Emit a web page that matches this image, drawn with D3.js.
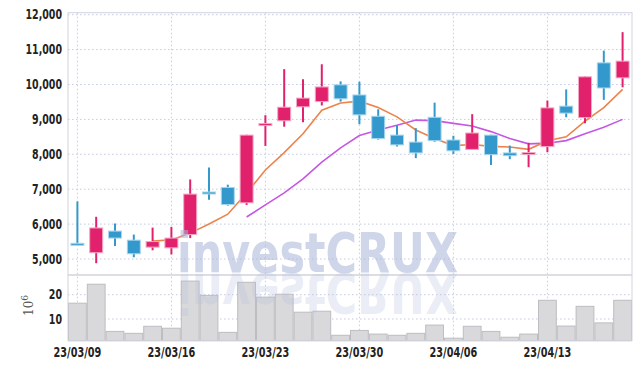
<!DOCTYPE html>
<html>
<head>
<meta charset="utf-8">
<script src="https://cdn.jsdelivr.net/npm/d3@7"></script>
<style>
  html, body { margin: 0; padding: 0; background: #fff; }
  svg { display: block; }
  .tick-label { font-family: "DejaVu Sans Condensed", "DejaVu Sans", sans-serif; font-weight: bold; font-size: 13.5px; fill: #222; }
</style>
</head>
<body>
<svg id="chart"></svg>
<script>
const svg = d3.select("#chart");
const width = 642;
const height = 369;
svg.attr("width", width).attr("height", height);

// trading days
const dates = ["23/03/09", "23/03/10", "23/03/13", "23/03/14", "23/03/15", "23/03/16", "23/03/17",
    "23/03/20", "23/03/21", "23/03/22", "23/03/23", "23/03/24", "23/03/27", "23/03/28", "23/03/29",
    "23/03/30", "23/03/31", "23/04/03", "23/04/04", "23/04/05", "23/04/06", "23/04/07", "23/04/10",
    "23/04/11", "23/04/12", "23/04/13", "23/04/14", "23/04/17", "23/04/18", "23/04/19"];
const open  = [5450, 5180, 5800, 5540, 5340, 5320, 5700, 6920, 7050, 6610, 8860, 8960, 9360, 9510, 9990,
    9700, 9090, 8550, 8350, 9060, 8410, 8140, 8550, 8040, 8000, 8220, 9380, 9050, 10620, 10190];
const high  = [6650, 6210, 6020, 5700, 5900, 5920, 7280, 7620, 7130, 8560, 9120, 10440, 10150, 10580, 10090,
    10080, 9290, 8840, 8750, 9480, 8530, 9150, 8560, 8250, 8330, 9540, 9860, 10230, 10970, 11500];
const low   = [5430, 4880, 5370, 5050, 5250, 5130, 5600, 6700, 6530, 6550, 8240, 8790, 8920, 9400, 9510,
    8860, 8420, 8220, 7890, 8360, 8010, 8130, 7690, 7860, 7630, 8060, 9060, 8890, 9560, 9920];
const close = [5440, 5890, 5600, 5150, 5500, 5600, 6860, 6900, 6560, 8550, 8880, 9350, 9610, 9930, 9590,
    9130, 8450, 8270, 8040, 8390, 8100, 8610, 7990, 7960, 8050, 9330, 9180, 10220, 9900, 10670];
// volume in millions of shares
const volume = [16.5, 24.3, 4.9, 4.1, 7.0, 6.2, 25.6, 19.7, 4.5, 25.1, 19.0, 20.2, 12.8, 13.2, 3.3,
    5.3, 3.8, 3.3, 4.1, 7.5, 2.1, 7.0, 4.9, 2.5, 3.8, 17.7, 7.1, 15.2, 8.4, 17.7];

const priceTicks = [5000, 6000, 7000, 8000, 9000, 10000, 11000, 12000];
const volumeTicks = [10, 20];
const dateTicks = ["23/03/09", "23/03/16", "23/03/23", "23/03/30", "23/04/06", "23/04/13"];

const upColor = "#e2216c";
const downColor = "#3399cc";
const gridColor = "#c5cbe0";
const frameColor = "#d2d3dc";

const left = 68, right = 632;
const priceTop = 12.7, priceBottom = 275;
const volTop = 275, volBottom = 340.7;

const candles = dates.map((d, i) => ({
    date: d, open: open[i], high: high[i], low: low[i], close: close[i], volume: volume[i]
}));

// moving averages of the closes
function movingAverage(n) {
    return candles.map((d, i) => i < n - 1 ? null : d3.mean(close.slice(i - n + 1, i + 1)));
}
const ma5 = movingAverage(5);
const ma10 = movingAverage(10);

const x = d3.scaleBand().domain(dates).range([left, right]).padding(0);
const y = d3.scaleLinear().domain([4542, 12057]).range([priceBottom, priceTop]);
const yVol = d3.scaleLinear().domain([1.07, 28.1]).range([volBottom, volTop]);

const cx = (d) => x(d) + x.bandwidth() / 2;

// grid
const grid = svg.append("g").attr("stroke", gridColor).attr("stroke-dasharray", "1.5,2.5").attr("stroke-width", 1);
grid.selectAll(".hgrid").data(priceTicks).enter().append("line")
    .attr("x1", left).attr("x2", right)
    .attr("y1", (d) => y(d)).attr("y2", (d) => y(d));
grid.selectAll(".vgrid-vol").data(volumeTicks).enter().append("line")
    .attr("x1", left).attr("x2", right)
    .attr("y1", (d) => yVol(d)).attr("y2", (d) => yVol(d));
grid.selectAll(".vgrid").data(dateTicks).enter().append("line")
    .attr("x1", (d) => cx(d)).attr("x2", (d) => cx(d))
    .attr("y1", priceTop).attr("y2", volBottom);

// volume bars
svg.append("g").selectAll("rect").data(candles).enter().append("rect")
    .attr("x", (d) => x(d.date) + 0.5)
    .attr("width", x.bandwidth() - 1)
    .attr("y", (d) => yVol(d.volume))
    .attr("height", (d) => volBottom - yVol(d.volume))
    .attr("fill", "#d9d9db")
    .attr("stroke", "#bdbdc2")
    .attr("stroke-width", 1);

// frame
svg.append("rect").attr("x", left).attr("y", priceTop).attr("width", right - left).attr("height", volBottom - priceTop)
    .attr("fill", "none").attr("stroke", frameColor);
svg.append("line").attr("x1", left).attr("x2", right).attr("y1", priceBottom).attr("y2", priceBottom)
    .attr("stroke", frameColor).attr("stroke-width", 1.5);

// moving average lines
const line = d3.line().defined((d) => d.v !== null).x((d) => cx(d.date)).y((d) => y(d.v));
svg.append("path").datum(dates.map((d, i) => ({ date: d, v: ma10[i] })))
    .attr("d", line).attr("fill", "none").attr("stroke", "#c657e3").attr("stroke-width", 1.6);
svg.append("path").datum(dates.map((d, i) => ({ date: d, v: ma5[i] })))
    .attr("d", line).attr("fill", "none").attr("stroke", "#ec834c").attr("stroke-width", 1.6);

// candles
const bodyW = 13;
const candle = svg.append("g").selectAll("g").data(candles).enter().append("g");
candle.append("line")
    .attr("x1", (d) => cx(d.date)).attr("x2", (d) => cx(d.date))
    .attr("y1", (d) => y(d.high)).attr("y2", (d) => y(d.low))
    .attr("stroke", (d) => d.close >= d.open ? upColor : downColor)
    .attr("stroke-width", 2);
candle.append("rect")
    .attr("x", (d) => cx(d.date) - bodyW / 2)
    .attr("width", bodyW)
    .attr("y", (d) => y(Math.max(d.open, d.close)))
    .attr("height", (d) => Math.max(2, Math.abs(y(d.open) - y(d.close))))
    .attr("fill", (d) => d.close >= d.open ? upColor : downColor)
    .attr("stroke", (d) => d.close >= d.open ? "#f5a8c6" : "#a8d6ee")
    .attr("stroke-width", 1);

// watermark (with its mirror image under the baseline)
const wm = svg.append("g").attr("pointer-events", "none");
wm.append("text")
    .attr("x", 177).attr("y", 272)
    .attr("textLength", 281).attr("lengthAdjust", "spacingAndGlyphs")
    .attr("font-family", "DejaVu Sans, sans-serif").attr("font-weight", "bold")
    .attr("font-size", 55).attr("fill", "#a9b5d8").attr("fill-opacity", 0.55)
    .text("investCRUX");
wm.append("text")
    .attr("transform", "translate(0,546) scale(1,-1)")
    .attr("x", 177).attr("y", 272)
    .attr("textLength", 281).attr("lengthAdjust", "spacingAndGlyphs")
    .attr("font-family", "DejaVu Sans, sans-serif").attr("font-weight", "bold")
    .attr("font-size", 55).attr("fill", "#b7c0dc").attr("fill-opacity", 0.3)
    .text("investCRUX");

// axes labels (narrowed, the original face is condensed)
const fmt = d3.format(",");
svg.append("g").selectAll("text").data(priceTicks).enter().append("text")
    .attr("class", "tick-label")
    .attr("transform", (d) => `translate(62,${y(d)}) scale(0.78,1)`)
    .attr("dy", "0.35em")
    .attr("text-anchor", "end")
    .text((d) => fmt(d));
svg.append("g").selectAll("text").data(volumeTicks).enter().append("text")
    .attr("class", "tick-label")
    .attr("transform", (d) => `translate(62,${yVol(d)}) scale(0.78,1)`)
    .attr("dy", "0.35em")
    .attr("text-anchor", "end")
    .text((d) => d);
svg.append("g").selectAll("text").data(dateTicks).enter().append("text")
    .attr("class", "tick-label")
    .attr("transform", (d) => `translate(${cx(d)},357) scale(0.8,1)`)
    .attr("text-anchor", "middle")
    .text((d) => d);

const unit = svg.append("text")
    .attr("transform", "translate(33,316) rotate(-90)")
    .attr("font-family", "DejaVu Serif, serif").attr("font-size", 12).attr("fill", "#555");
unit.append("tspan").text("10");
unit.append("tspan").attr("dy", -5).attr("font-size", 9).text("6");
</script>
</body>
</html>
